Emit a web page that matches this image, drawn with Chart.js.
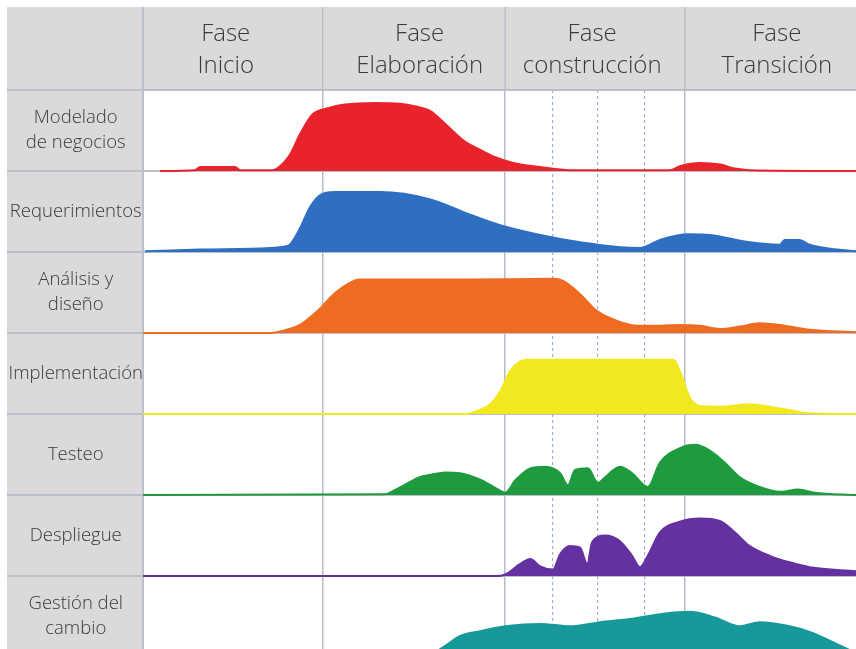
<!DOCTYPE html>
<html>
<head>
<meta charset="utf-8">
<script src="https://cdn.jsdelivr.net/npm/chart.js@4.4.1/dist/chart.umd.min.js"></script>
<style>
  html, body { margin: 0; padding: 0; background: #fff; }
  #wrap { width: 856px; height: 649px; position: relative; }
</style>
</head>
<body>
<div id="wrap"><canvas id="rup"></canvas></div>
<script>
// phases (top header) and where their labels / borders sit on the time axis (0-100)
const phaseNames = [["Fase", "Inicio"], ["Fase", "Elaboración"], ["Fase", "construcción"], ["Fase", "Transición"]];
const phaseLabelAt = [11.6, 38.8, 63.0, 88.9];
const phaseEdges = [25.2, 50.8, 76.0];
const iterationEdges = [57.5, 63.8, 70.3];

// disciplines (left column)
const disciplines = [["Modelado", "de negocios"], ["Requerimientos"], ["Análisis y", "diseño"],
  ["Implementación"], ["Testeo"], ["Despliegue"], ["Gestión del", "cambio"]];
const colors = ["#e8232b", "#2f6fc1", "#ef6b22", "#f2e81f", "#1f9a3e", "#6431a0", "#17999a"];

// effort per discipline: [time, share of row height]
const modelado = [[2.4,0],[7.3,0.01],[8.0,0.05],[12.9,0.05],[13.6,0.01],[18.1,0.01],[18.8,0.03],[20.6,0.2],[22.0,0.45],[23.8,0.7],[26.2,0.78],[28.3,0.82],[32.5,0.84],[36.0,0.83],[38.1,0.8],[40.3,0.74],[42.4,0.58],[44.9,0.38],[47.3,0.26],[49.4,0.17],[51.9,0.1],[55.7,0.05],[59.9,0.01],[73.9,0.01],[75.3,0.06],[78.1,0.1],[81.0,0.08],[83.0,0.03],[85.1,0.01],[100,0]];
const requerimientos = [[0.3,0.01],[8,0.03],[17.8,0.05],[19.9,0.07],[20.6,0.09],[22.0,0.29],[23.4,0.55],[24.8,0.7],[26.9,0.74],[33.2,0.74],[40.3,0.65],[45.9,0.46],[50.1,0.33],[55.7,0.21],[61.3,0.12],[66.9,0.06],[69.7,0.05],[71.1,0.09],[72.5,0.15],[76.7,0.22],[79.5,0.21],[85.1,0.12],[89.3,0.09],[90.0,0.15],[92.1,0.15],[93.5,0.09],[96.4,0.04],[100,0.01]];
const analisis = [[0,0],[17.8,0],[19.2,0.02],[22.0,0.1],[24.8,0.3],[26.9,0.49],[29.0,0.62],[30.4,0.66],[45,0.66],[57.8,0.67],[59.0,0.64],[61.3,0.48],[63.7,0.27],[66.5,0.15],[69.3,0.09],[72,0.09],[75.3,0.1],[78.1,0.09],[80.9,0.05],[83.7,0.08],[86.5,0.12],[89.3,0.1],[93.5,0.04],[100,0.01]];
const implementacion = [[0,0],[45.4,0],[46.6,0.03],[48.7,0.12],[50.1,0.28],[51.5,0.53],[52.9,0.65],[53.9,0.67],[74.4,0.67],[75.3,0.53],[76.7,0.2],[78.1,0.1],[80.9,0.09],[85.1,0.12],[89.3,0.07],[93.5,0.01],[100,0]];
const testeo = [[0,0],[33.9,0.01],[35.3,0.06],[37.4,0.16],[38.8,0.22],[40.3,0.25],[42.4,0.28],[44.5,0.27],[47.3,0.19],[49.4,0.09],[50.8,0.03],[52.2,0.18],[54.3,0.33],[56.4,0.35],[58.5,0.27],[59.6,0.12],[60.6,0.31],[62.4,0.33],[63.8,0.15],[64.8,0.22],[66.9,0.35],[68.6,0.27],[70.8,0.1],[72.5,0.4],[75.3,0.58],[77.4,0.62],[79.5,0.55],[81.6,0.4],[83.7,0.22],[86.5,0.1],[89.3,0.04],[91.9,0.07],[94.2,0.03],[100,0]];
const despliegue = [[0,0],[49.5,0],[50.8,0.02],[52.9,0.15],[54.3,0.21],[55.7,0.12],[57.5,0.08],[58.5,0.27],[59.9,0.37],[61.3,0.35],[62.3,0.15],[63.0,0.42],[64.8,0.5],[66.9,0.43],[68.6,0.25],[69.7,0.11],[70.8,0.25],[72.5,0.54],[75.3,0.67],[78.1,0.71],[80.9,0.68],[83.0,0.54],[85.1,0.37],[87.9,0.25],[90.7,0.17],[93.5,0.11],[100,0.06]];
const gestion = [[0,0],[40.3,0],[41.7,0.1],[42.4,0.14],[44.5,0.26],[47.3,0.32],[50.8,0.38],[55.7,0.41],[59.9,0.38],[64.1,0.43],[68.3,0.47],[72.5,0.53],[76.7,0.56],[80.2,0.49],[83.7,0.38],[86.5,0.43],[90.7,0.38],[93.5,0.31],[97.8,0.14],[100,0.05]];

const series = [modelado, requerimientos, analisis, implementacion, testeo, despliegue, gestion];
const ROWS = disciplines.length;

Chart.defaults.font.family = "'Open Sans', 'Noto Sans', sans-serif";
Chart.defaults.color = "#3a3a3a";

// each discipline sits on its own baseline, row 0 on top
const datasets = series.map((pts, r) => {
  const base = ROWS - 1 - r;
  return {
    label: disciplines[r].join(" "),
    data: pts.map(p => ({ x: p[0], y: base + p[1] })),
    borderColor: colors[r],
    backgroundColor: colors[r],
    borderWidth: 2,
    pointRadius: 0,
    cubicInterpolationMode: "monotone",
    fill: { value: base }
  };
});

const frame = {
  id: "frame",
  beforeDraw(chart) {
    const { ctx, chartArea, scales } = chart;
    const W = chart.width, H = chart.height;
    ctx.save();
    ctx.fillStyle = "#fff";
    ctx.fillRect(0, 0, W, H);
    ctx.fillStyle = "#dadada";
    ctx.fillRect(7, 7, W - 7, chartArea.top - 7);
    ctx.fillRect(7, 7, chartArea.left - 7, H - 7);
    // row separators
    ctx.strokeStyle = "#b9c0c8";
    ctx.lineWidth = 2;
    for (let v = 1; v <= ROWS; v++) {
      const y = scales.y.getPixelForValue(v);
      ctx.beginPath();
      ctx.moveTo(7, y);
      ctx.lineTo(W, y);
      ctx.stroke();
    }
    // column borders through the header and left column
    ctx.beginPath();
    ctx.moveTo(chartArea.left, 7);
    ctx.lineTo(chartArea.left, H);
    ctx.stroke();
    ctx.lineWidth = 1.5;
    phaseEdges.forEach(v => {
      const x = scales.x.getPixelForValue(v);
      ctx.beginPath();
      ctx.moveTo(x, 7);
      ctx.lineTo(x, chartArea.top);
      ctx.stroke();
    });
    ctx.restore();
  }
};

const isDashed = ctx => ctx.tick && iterationEdges.includes(ctx.tick.value);

new Chart(document.getElementById("rup"), {
  type: "line",
  data: { datasets },
  options: {
    responsive: true,
    maintainAspectRatio: false,
    animation: false,
    layout: { padding: { top: 7, left: 7, right: 0, bottom: 0 } },
    plugins: { legend: { display: false }, tooltip: { enabled: false } },
    scales: {
      x: {
        type: "linear",
        min: 0,
        max: 100,
        afterBuildTicks: s => { s.ticks = phaseEdges.concat(iterationEdges).map(v => ({ value: v })); },
        afterFit: s => { s.height = 0; s.paddingLeft = 0; s.paddingRight = 0; },
        ticks: { display: false },
        grid: {
          drawTicks: false,
          color: ctx => isDashed(ctx) ? "#9db2cc" : "#b3bcc7",
          lineWidth: ctx => isDashed(ctx) ? 1.2 : 1.5
        },
        border: { display: false, dash: ctx => isDashed(ctx) ? [3, 3] : [] }
      },
      xTop: {
        type: "linear",
        position: "top",
        min: 0,
        max: 100,
        afterBuildTicks: s => { s.ticks = phaseLabelAt.map(v => ({ value: v })); },
        afterFit: s => { s.height = 83; s.paddingLeft = 0; s.paddingRight = 0; },
        ticks: {
          autoSkip: false,
          maxRotation: 0,
          padding: 8,
          font: { size: 24, weight: 300, lineHeight: 1.33 },
          callback: (v, i) => phaseNames[i]
        },
        grid: { display: false, drawTicks: false },
        border: { display: false }
      },
      y: {
        type: "linear",
        min: 0.1,
        max: ROWS,
        afterBuildTicks: s => { s.ticks = disciplines.map((d, r) => ({ value: ROWS - 0.5 - r })); },
        afterFit: s => { s.width = 136; s.paddingTop = 0; s.paddingBottom = 0; },
        ticks: {
          autoSkip: false,
          crossAlign: "center",
          padding: 0,
          font: { size: 18.5, weight: 300, lineHeight: 1.35 },
          callback: (v, i) => disciplines[i]
        },
        grid: { display: false, drawTicks: false },
        border: { display: false }
      }
    }
  },
  plugins: [frame]
});
</script>
</body>
</html>
